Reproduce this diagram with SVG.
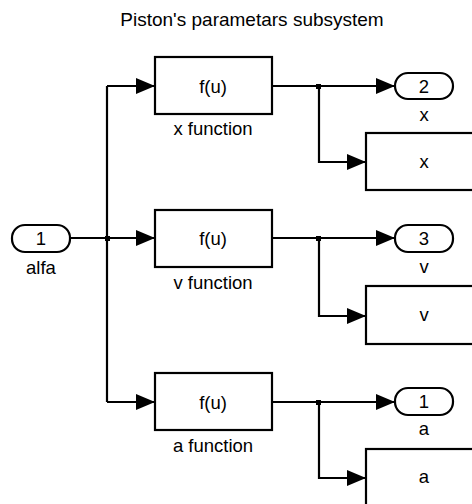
<svg xmlns="http://www.w3.org/2000/svg" width="472" height="504" viewBox="0 0 472 504">
<style>
text{font-family:"Liberation Sans",Arial,sans-serif;font-size:18.5px;fill:#000;text-anchor:middle}
.b{fill:#fff;stroke:#000;stroke-width:2.2}
.l{fill:none;stroke:#000;stroke-width:2.2}
</style>
<defs>
<marker id="ar" viewBox="0 0 19 16" refX="19" refY="8" markerWidth="19" markerHeight="16" markerUnits="userSpaceOnUse" orient="auto">
<path d="M0,0L19,8L0,16Z" fill="#000"/>
</marker>
</defs>
<rect width="472" height="504" fill="#fff"/>
<text x="252" y="26" style="font-size:19px">Piston's parametars subsystem</text>
<g id="connectors">
<path class="l" d="M70,238H155" marker-end="url(#ar)"/>
<path class="l" d="M107,86V402"/>
<path class="l" d="M107,86H155" marker-end="url(#ar)"/>
<path class="l" d="M107,402H155" marker-end="url(#ar)"/>
<path class="l" d="M272,86H395" marker-end="url(#ar)"/>
<path class="l" d="M319,86V162H366" marker-end="url(#ar)"/>
<path class="l" d="M272,238H395" marker-end="url(#ar)"/>
<path class="l" d="M319,238V316H366" marker-end="url(#ar)"/>
<path class="l" d="M272,402H395" marker-end="url(#ar)"/>
<path class="l" d="M319,402V478H366" marker-end="url(#ar)"/>
<rect x="105" y="236" width="5" height="5"/>
<rect x="316" y="84" width="5" height="5"/>
<rect x="316" y="236" width="5" height="5"/>
<rect x="316" y="400" width="5" height="5"/>
</g>
<g id="in_alfa">
<rect class="b" x="12" y="225" width="58" height="27" rx="13"/>
<text x="41" y="245">1</text>
<text x="41" y="274">alfa</text>
</g>
<g id="x_function">
<rect class="b" x="155" y="57" width="117" height="57"/>
<text x="213" y="93">f(u)</text>
<text x="213" y="135">x function</text>
</g>
<g id="v_function">
<rect class="b" x="155" y="210" width="117" height="57"/>
<text x="213" y="245">f(u)</text>
<text x="213" y="289">v function</text>
</g>
<g id="a_function">
<rect class="b" x="155" y="373" width="117" height="57"/>
<text x="213" y="409">f(u)</text>
<text x="213" y="452">a function</text>
</g>
<g id="out_x">
<rect class="b" x="395" y="73" width="58" height="26" rx="13"/>
<text x="424" y="93">2</text>
<text x="424" y="121">x</text>
</g>
<g id="out_v">
<rect class="b" x="395" y="225" width="58" height="27" rx="13"/>
<text x="424" y="245">3</text>
<text x="424" y="273">v</text>
</g>
<g id="out_a">
<rect class="b" x="395" y="388" width="58" height="27" rx="13"/>
<text x="424" y="408">1</text>
<text x="424" y="435">a</text>
</g>
<g id="scope_x">
<rect class="b" x="366" y="133" width="120" height="57"/>
<text x="424" y="168">x</text>
</g>
<g id="scope_v">
<rect class="b" x="366" y="286" width="120" height="58"/>
<text x="424" y="321">v</text>
</g>
<g id="scope_a">
<rect class="b" x="366" y="449" width="120" height="60"/>
<text x="424" y="483">a</text>
</g>
</svg>
